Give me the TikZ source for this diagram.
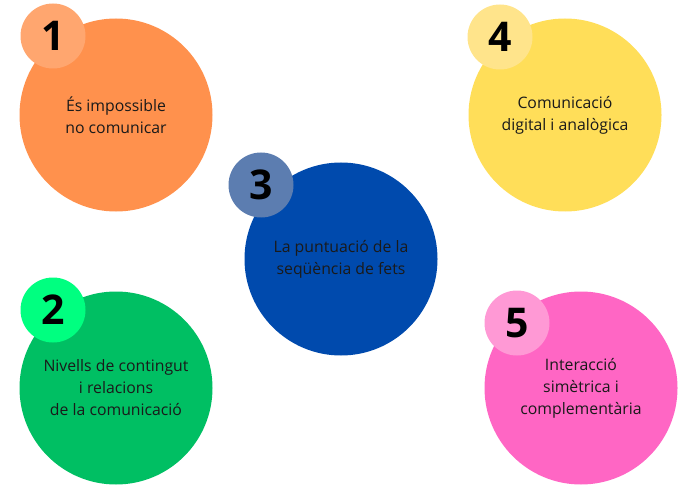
\documentclass[tikz,border=0pt]{standalone}
\usepackage{fontspec}
\setmainfont{Open Sans}
\usetikzlibrary{positioning}
\definecolor{orangebig}{HTML}{FF914D}
\definecolor{orangesmall}{HTML}{FFA66F}
\definecolor{yellowbig}{HTML}{FFDE59}
\definecolor{yellowsmall}{HTML}{FFE48B}
\definecolor{bluebig}{HTML}{004AAD}
\definecolor{bluesmall}{HTML}{5C7DB0}
\definecolor{greenbig}{HTML}{00BF63}
\definecolor{greensmall}{HTML}{00FF80}
\definecolor{pinkbig}{HTML}{FF66C4}
\definecolor{pinksmall}{HTML}{FF99D5}
\definecolor{textdark}{HTML}{1A1A1A}
\tikzset{
  bigdisc/.style={circle,minimum size=193pt,inner sep=0pt,align=center,text=textdark,font=\fontsize{15.8}{22}\selectfont},
  numdisc/.style={circle,minimum size=65pt,inner sep=0pt,font=\fontsize{41}{41}\selectfont\bfseries}
}

\begin{document}
\begin{tikzpicture}[x=1pt,y=-1pt]
\useasboundingbox (0,0) rectangle (684,486);
% big discs with their texts
\foreach \k/\cx/\cy/\c/\txt in {1/116/115/orange/{És impossible\\no comunicar},4/565/115/yellow/{Comunicació\\digital i analògica},3/341/259/blue/{La puntuació de la\\seqüència de fets},2/116/388/green/{Nivells de contingut\\i relacions\\de la comunicació},5/581/388/pink/{Interacció\\simètrica i\\complementària}} {\node[bigdisc,fill=\c big] (big\k) at (\cx,\cy) {\txt};}
% number discs
\foreach \k/\nx/\ny/\c in {1/53/36/orange,4/500/37/yellow,3/261/185/blue,2/53/310/green,5/517/323/pink} {\node[numdisc,fill=\c small] (num\k) at (\nx,\ny) {\k};}
\end{tikzpicture}
\end{document}
